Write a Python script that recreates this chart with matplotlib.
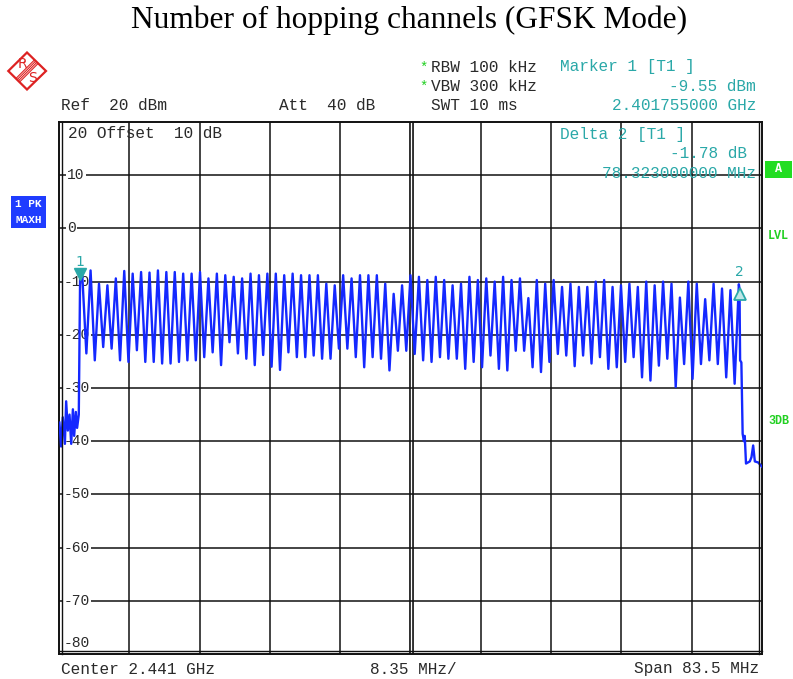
import matplotlib
matplotlib.use('Agg')
import matplotlib.pyplot as plt
from matplotlib.patches import Polygon, Rectangle
from matplotlib.lines import Line2D
from matplotlib.transforms import offset_copy

W, H = 793, 679

# analyzer settings
center_mhz = 2441.0
span_mhz = 83.5
ref_db = 20
n_div = 10
db_div = 10

# noise before the band
pre_freq = [2399.3, 2399.5, 2399.7, 2399.95, 2400.1, 2400.3, 2400.5, 2400.7,
            2400.9, 2401.05, 2401.25, 2401.4, 2401.6]
pre_level = [-36.5, -41.0, -35.5, -40.5, -32.5, -38.0, -35.0, -40.5,
             -34.0, -39.0, -34.5, -37.5, -35.0]

# 79 hopping channels, max hold peaks and the dips between them
chan_freq = list(range(2402, 2481))
chan_peak = [-8.4, -7.9, -10.4, -10.7, -9.4, -8.0, -8.5, -8.2, -8.3, -7.9,
             -8.2, -8.2, -8.5, -8.5, -8.2, -9.4, -8.5, -8.8, -9.1, -9.4,
             -8.5, -8.8, -8.5, -8.5, -8.8, -8.5, -8.8, -8.8, -8.8, -10.4,
             -10.7, -8.8, -9.4, -8.8, -8.8, -8.8, -10.4, -12.3, -10.7, -8.8,
             -9.1, -9.7, -9.1, -9.7, -10.7, -10.4, -9.1, -9.7, -9.4, -10.0,
             -9.1, -9.7, -9.4, -13.1, -9.7, -10.4, -9.7, -11.0, -10.4, -11.0,
             -11.0, -10.0, -9.7, -11.0, -10.7, -10.4, -11.0, -10.0, -10.7, -10.0,
             -10.4, -13.0, -10.0, -10.4, -13.3, -10.4, -11.3, -11.6, -10.5]
chan_valley = [-23.5, -24.8, -22.3, -22.6, -24.8, -25.1, -22.9, -25.1, -25.1, -25.4,
               -25.4, -25.1, -24.8, -24.8, -24.2, -23.3, -25.7, -21.4, -23.5, -24.5,
               -25.7, -23.8, -26.0, -26.6, -23.3, -24.2, -24.2, -23.9, -24.5, -24.5,
               -22.6, -22.6, -24.2, -26.1, -24.2, -24.5, -26.7, -23.0, -23.0, -23.6,
               -24.8, -25.1, -24.2, -24.5, -24.5, -26.4, -25.1, -26.1, -23.9, -26.4,
               -26.7, -23.0, -23.0, -26.1, -27.0, -25.1, -23.6, -23.9, -25.9, -23.9,
               -25.4, -24.2, -26.4, -26.1, -25.1, -24.2, -28.0, -28.6, -25.8, -24.5,
               -29.8, -25.5, -28.3, -25.5, -24.8, -25.5, -28.0, -29.2]

# after the band
post_freq = [2480.15, 2480.3, 2480.45, 2480.6, 2480.7, 2480.85, 2481.3, 2481.5,
             2481.7, 2481.9, 2482.3, 2482.75]
post_level = [-24.8, -25.2, -38.6, -40.0, -39.0, -44.2, -43.8, -43.0,
              -40.8, -43.8, -44.0, -44.8]

m1_freq, m1_level = 2401.755, -9.55
delta_freq, delta_level = 78.323, -1.78
m2_freq, m2_level = m1_freq + delta_freq, m1_level + delta_level

mono = 'Liberation Mono'
teal = '#2aa8a8'
green = '#22d022'
blue = '#1428ff'
ink = '#2a2a2a'


def fx(x):
    return x / W


def fy(y):
    return 1 - y / H


def ftext(x, y, s, **kw):
    opts = dict(fontfamily=mono, fontsize=11.6, va='center', color=ink)
    opts.update(kw)
    fig.text(fx(x), fy(y), s, **opts)


def fline(xs, ys, **kw):
    fig.add_artist(Line2D([fx(v) for v in xs], [fy(v) for v in ys],
                          transform=fig.transFigure, **kw))


fig = plt.figure(figsize=(W / 100, H / 100), dpi=100)

f0 = center_mhz - span_mhz / 2
f1 = center_mhz + span_mhz / 2
bottom_db = ref_db - n_div * db_div

ax = fig.add_axes([fx(59), fy(654), (762 - 59) / W, (654 - 122) / H])
ax.set_xlim(f0, f1)
ax.set_ylim(bottom_db, ref_db)
ax.set_xticks([])
ax.set_yticks([])
for s in ax.spines.values():
    s.set_linewidth(1.4)
    s.set_color('#111111')

step = span_mhz / n_div
for i in range(1, n_div):
    if i == n_div // 2:
        ax.axvline(f0 + i * step, color='#111111', lw=3.4, zorder=1)
        ax.axvline(f0 + i * step, color='white', lw=1.0, zorder=1)
    else:
        ax.axvline(f0 + i * step, color='#111111', lw=1.1, zorder=1)
for v in range(bottom_db + db_div, ref_db, db_div):
    ax.axhline(v, color='#111111', lw=1.1, zorder=1)
    x0 = f0 + (0.55 if v < 0 else 0.95)
    ax.text(x0, v, str(v), fontfamily=mono, fontsize=10.5, va='center', ha='left',
            color=ink, zorder=1.5,
            bbox=dict(boxstyle='square,pad=0.1', fc='white', ec='none'))
ax.text(f0 + 0.55, bottom_db + 2, str(bottom_db), fontfamily=mono, fontsize=10.5,
        va='center', ha='left', color=ink, zorder=1.5)

# inner lines of the double frame
fline([62, 62], [122, 654], color='#111111', lw=1.0)
fline([759, 759], [122, 654], color='#111111', lw=1.0)
fline([59, 762], [651, 651], color='#111111', lw=1.0)

# trace
freq = pre_freq + [m1_freq]
level = pre_level + [m1_level]
for i, f in enumerate(chan_freq):
    freq.append(f)
    level.append(chan_peak[i])
    if i < len(chan_valley):
        freq.append(f + 0.5)
        level.append(chan_valley[i])
freq += [m2_freq] + post_freq
level += [m2_level] + post_level
ax.plot(freq, level, color=blue, lw=1.7, zorder=3, solid_joinstyle='round')

# markers
tr_up = offset_copy(ax.transData, fig=fig, x=0, y=5, units='dots')
tr_dn = offset_copy(ax.transData, fig=fig, x=0, y=-5, units='dots')
ax.plot([m1_freq], [m1_level], marker='v', ms=8, color=teal, mec=teal,
        transform=tr_up, zorder=4, clip_on=False)
ax.plot([m2_freq], [m2_level], marker='^', ms=8, mfc='#bfe6e6', mec=teal, mew=1.3,
        transform=tr_dn, zorder=4, clip_on=False)
lbl_tr = offset_copy(ax.transData, fig=fig, x=0, y=17, units='dots')
ax.text(m1_freq, m1_level, '1', transform=lbl_tr, color=teal, fontsize=10,
        ha='center', va='center', zorder=4)
ax.text(m2_freq, m2_level, '2', transform=lbl_tr, color=teal, fontsize=10,
        ha='center', va='center', zorder=4)

# title
fig.text(fx(409), fy(20), 'Number of hopping channels (GFSK Mode)',
         fontfamily='Liberation Serif', fontsize=22.6, ha='center', va='center')

# R&S logo
red = '#dd2222'
fig.add_artist(Polygon([(fx(27), fy(52.5)), (fx(46), fy(71)), (fx(27), fy(89.5)),
                        (fx(8.3), fy(71))], closed=True, fc='white', ec=red,
                       lw=1.6, transform=fig.transFigure))
for o in (-1.8, -0.6, 0.6, 1.8):
    fline([27 + o - 9.2, 27 + o + 9.2], [71 + o + 9.2, 71 + o - 9.2], color=red, lw=0.8)
fig.text(fx(22), fy(64), 'R', color=red, fontsize=10, ha='center', va='center')
fig.text(fx(32.5), fy(78), 'S', color=red, fontsize=10, ha='center', va='center')

# header
ftext(424, 68, '*', color=green, fontsize=10, ha='center')
ftext(424, 87, '*', color=green, fontsize=10, ha='center')
ftext(431, 67, 'RBW 100 kHz')
ftext(431, 86.5, 'VBW 300 kHz')
ftext(431, 106, 'SWT 10 ms')
ftext(61, 106, 'Ref  20 dBm')
ftext(279, 106, 'Att  40 dB')
ftext(560, 67, 'Marker 1 [T1 ]', color=teal)
ftext(756, 86.5, '%.2f dBm' % m1_level, color=teal, ha='right')
ftext(756, 106, '%.9f GHz' % (m1_freq / 1000), color=teal, ha='right')

# inside the grid
ftext(68, 133, '20 Offset  10 dB')
ftext(560, 134, 'Delta 2 [T1 ]', color=teal)
ftext(747, 154, '%.2f dB' % delta_level, color=teal, ha='right')
ftext(756, 173, '%.9f MHz' % delta_freq, color=teal, ha='right')

# footer
ftext(61, 669, 'Center %.3f GHz' % (center_mhz / 1000))
ftext(413, 669, '%.2f MHz/' % step, ha='center')
ftext(759, 669, 'Span %.1f MHz' % span_mhz, ha='right')

# side labels
fig.add_artist(Rectangle((fx(11), fy(228)), 35 / W, 32 / H, fc='#1f3cff', ec='none',
                         transform=fig.transFigure))
ftext(28.5, 204, '1 PK', color='white', fontsize=8, fontweight='bold', ha='center')
ftext(28.5, 220, 'MAXH', color='white', fontsize=8, fontweight='bold', ha='center')
fig.add_artist(Rectangle((fx(765), fy(178)), 27 / W, 17 / H, fc='#22dd22', ec='none',
                         transform=fig.transFigure))
ftext(778.5, 169.5, 'A', color='white', fontsize=8.5, fontweight='bold', ha='center')
ftext(778.5, 236, 'LVL', color=green, fontsize=8.5, fontweight='bold', ha='center')
ftext(778.5, 421, '3DB', color=green, fontsize=8.5, fontweight='bold', ha='center')

fig.savefig('out.png', dpi=100)
